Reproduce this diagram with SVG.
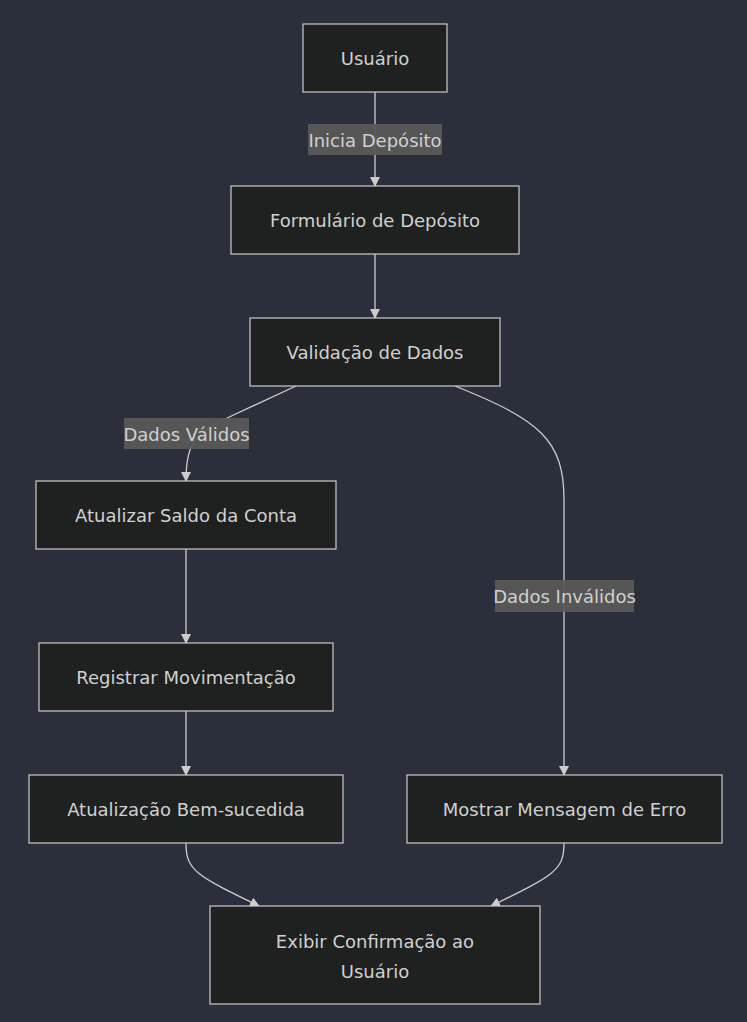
<svg xmlns="http://www.w3.org/2000/svg" width="747" height="1022" viewBox="0 0 747 1022">
<style>
.node rect{fill:#1f2020;stroke:#cccccc;stroke-width:1.2}
.node text{fill:#d0d0d0;font-family:"DejaVu Sans",sans-serif;font-size:18px;text-anchor:middle;dominant-baseline:central}
.edge{fill:none;stroke:#cccccc;stroke-width:1.3}
.lbl rect{fill:#585858;opacity:0.95}
.lbl text{fill:#d0d0d0;font-family:"DejaVu Sans",sans-serif;font-size:18px;text-anchor:middle;dominant-baseline:central}
</style>
<defs>
<marker id="arr" viewBox="0 0 10 10" refX="9" refY="5" markerWidth="10" markerHeight="10" markerUnits="userSpaceOnUse" orient="auto">
<path d="M0,0 L10,5 L0,10 z" fill="#cccccc"/>
</marker>
</defs>
<rect width="747" height="1022" fill="#2b2f3b"/>
<g id="connectors">
<path class="edge" d="M375,92 L375,186" marker-end="url(#arr)"/>
<path class="edge" d="M375,254 L375,318" marker-end="url(#arr)"/>
<path class="edge" d="M296,386 L225,419 C190,436 186,450 186,481" marker-end="url(#arr)"/>
<path class="edge" d="M455,386 C540,420 564,440 564,500 L564,775" marker-end="url(#arr)"/>
<path class="edge" d="M186,549 L186,643" marker-end="url(#arr)"/>
<path class="edge" d="M186,711 L186,775" marker-end="url(#arr)"/>
<path class="edge" d="M186,843 C186,870 195,875 259,906" marker-end="url(#arr)"/>
<path class="edge" d="M564,843 C564,870 555,875 491,906" marker-end="url(#arr)"/>
</g>
<g id="label-inicia" class="lbl"><rect x="308" y="124" width="134" height="31"/><text x="375" y="140">Inicia Depósito</text></g>
<g id="label-validos" class="lbl"><rect x="124" y="418" width="125" height="31"/><text x="186.5" y="434">Dados Válidos</text></g>
<g id="label-invalidos" class="lbl"><rect x="495" y="580" width="139" height="32"/><text x="564.5" y="596">Dados Inválidos</text></g>
<g id="usuario" class="node"><rect x="303" y="24" width="144" height="68"/><text x="375" y="58">Usuário</text></g>
<g id="formulario" class="node"><rect x="231" y="186" width="288" height="68"/><text x="375" y="220">Formulário de Depósito</text></g>
<g id="validacao" class="node"><rect x="250" y="318" width="250" height="68"/><text x="375" y="352">Validação de Dados</text></g>
<g id="atualizar" class="node"><rect x="36" y="481" width="300" height="68"/><text x="186" y="515">Atualizar Saldo da Conta</text></g>
<g id="registrar" class="node"><rect x="39" y="643" width="294" height="68"/><text x="186" y="677">Registrar Movimentação</text></g>
<g id="sucesso" class="node"><rect x="29" y="775" width="314" height="68"/><text x="186" y="809">Atualização Bem-sucedida</text></g>
<g id="erro" class="node"><rect x="407" y="775" width="315" height="68"/><text x="564.5" y="809">Mostrar Mensagem de Erro</text></g>
<g id="exibir" class="node"><rect x="210" y="906" width="330" height="98"/><text x="375" y="941">Exibir Confirmação ao</text><text x="375" y="971">Usuário</text></g>
</svg>
